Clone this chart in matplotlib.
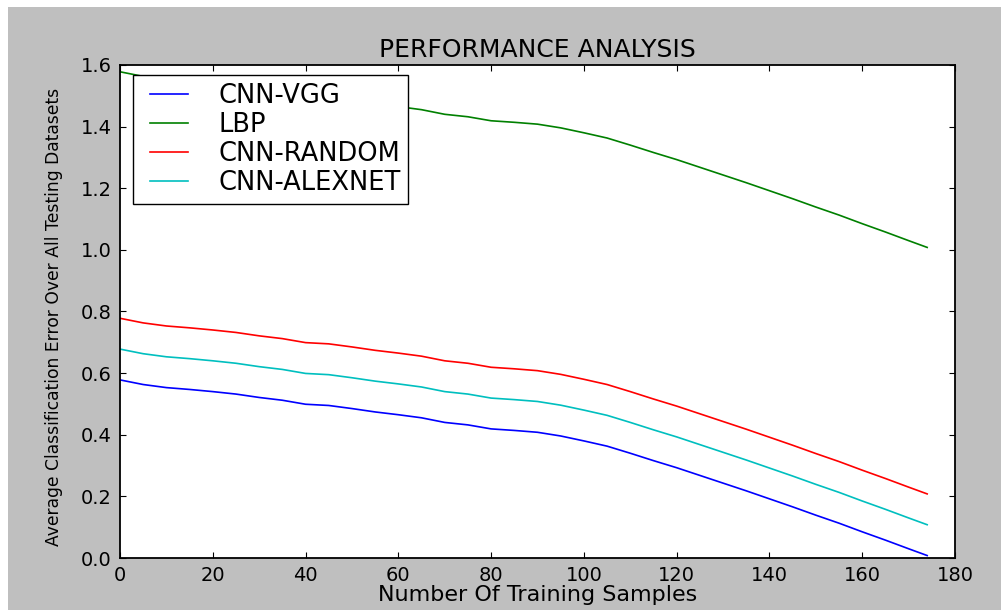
import matplotlib
matplotlib.use("Agg")
import matplotlib.pyplot as plt
from matplotlib.patches import Rectangle
from matplotlib.legend_handler import HandlerLine2D

# Data
samples = [0, 5, 10, 15, 20, 25, 30, 35, 40, 45, 50, 55, 60, 65, 70, 75, 80, 85,
           90, 95, 100, 105, 110, 115, 120, 125, 130, 135, 140, 145, 150, 155,
           160, 165, 170, 174]
cnn_vgg = [0.578, 0.563, 0.553, 0.547, 0.540, 0.532, 0.521, 0.512, 0.499, 0.495,
           0.485, 0.474, 0.465, 0.455, 0.440, 0.432, 0.419, 0.414, 0.408, 0.396,
           0.380, 0.363, 0.340, 0.316, 0.293, 0.268, 0.243, 0.218, 0.192, 0.166,
           0.139, 0.113, 0.085, 0.058, 0.030, 0.008]
lbp = [1.578, 1.563, 1.553, 1.547, 1.540, 1.532, 1.521, 1.512, 1.499, 1.495,
       1.485, 1.474, 1.465, 1.455, 1.440, 1.432, 1.419, 1.414, 1.408, 1.396,
       1.380, 1.363, 1.340, 1.316, 1.293, 1.268, 1.243, 1.218, 1.192, 1.166,
       1.139, 1.113, 1.085, 1.058, 1.030, 1.008]
cnn_random = [0.778, 0.763, 0.753, 0.747, 0.740, 0.732, 0.721, 0.712, 0.699, 0.695,
              0.685, 0.674, 0.665, 0.655, 0.640, 0.632, 0.619, 0.614, 0.608, 0.596,
              0.580, 0.563, 0.540, 0.516, 0.493, 0.468, 0.443, 0.418, 0.392, 0.366,
              0.339, 0.313, 0.285, 0.258, 0.230, 0.208]
cnn_alexnet = [0.678, 0.663, 0.653, 0.647, 0.640, 0.632, 0.621, 0.612, 0.599, 0.595,
               0.585, 0.574, 0.565, 0.555, 0.540, 0.532, 0.519, 0.514, 0.508, 0.496,
               0.480, 0.463, 0.440, 0.416, 0.393, 0.368, 0.343, 0.318, 0.292, 0.266,
               0.239, 0.213, 0.185, 0.158, 0.130, 0.108]
series_names = ["CNN-VGG", "LBP", "CNN-RANDOM", "CNN-ALEXNET"]
x_ticks = [0, 20, 40, 60, 80, 100, 120, 140, 160, 180]
y_ticks = [0.0, 0.2, 0.4, 0.6, 0.8, 1.0, 1.2, 1.4, 1.6]

plt.rcParams['font.family'] = ['DejaVu Sans']


class ShiftedLineHandler(HandlerLine2D):
    """Legend line that is drawn only in the right part of the handle box."""
    def __init__(self, shift_frac=0.25, **kw):
        super().__init__(**kw)
        self.shift_frac = shift_frac

    def create_artists(self, legend, orig_handle, xdescent, ydescent, width,
                       height, fontsize, trans):
        arts = super().create_artists(legend, orig_handle, xdescent, ydescent,
                                      width, height, fontsize, trans)
        line = arts[0]
        xd = list(line.get_xdata())
        x0, x1 = xd[0], xd[-1]
        line.set_xdata([x0 + (x1 - x0) * self.shift_frac, x1])
        line.set_ydata([line.get_ydata()[0]] * 2)
        return arts


W, H = 1001, 610
fig = plt.figure(figsize=(W / 100, H / 100), dpi=100, facecolor='#bfbfbf')
# white strips at top and left edges of the screenshot
fig.patches.append(Rectangle((0, 1 - 7 / H), 1, 7 / H, transform=fig.transFigure,
                             facecolor='white', edgecolor='none', zorder=-1))
fig.patches.append(Rectangle((0, 0), 8 / W, 1, transform=fig.transFigure,
                             facecolor='white', edgecolor='none', zorder=-1))

left, right, top, bottom = 120, 955, 65, 558
ax = fig.add_axes([left / W, 1 - bottom / H, (right - left) / W, (bottom - top) / H])
ax.set_facecolor('white')

colors = ['#0000ff', '#008000', '#ff0000', '#00bfbf']
lines = []
for data, name, c in zip([cnn_vgg, lbp, cnn_random, cnn_alexnet], series_names, colors):
    ln, = ax.plot(samples, data, color=c, lw=1.2, label=name)
    lines.append(ln)

ax.set_xlim(0, 180)
ax.set_ylim(0, 1.6)
ax.set_xticks(x_ticks)
ax.set_yticks(y_ticks)
ax.set_yticklabels([f"{v:.1f}" for v in y_ticks])
ax.tick_params(direction='in', length=4, width=0.8, top=True, right=True,
               labelsize=14, pad=6, colors='black')
for sp in ax.spines.values():
    sp.set_linewidth(1.3)
    sp.set_color('black')

ax.set_title("PERFORMANCE ANALYSIS", fontsize=18, pad=6)
ax.set_xlabel("Number Of Training Samples", fontsize=16)
ax.set_ylabel("Average Classification Error Over All Testing Datasets", fontsize=12.3)
ax.xaxis.set_label_coords(0.5, -0.055)
ax.yaxis.set_label_coords(-0.068, 0.489)

handler = ShiftedLineHandler(shift_frac=0.2)
leg = ax.legend(handles=lines, loc='upper left', bbox_to_anchor=(0.0156, 0.98),
                fontsize=18.5, frameon=True, fancybox=False, framealpha=1,
                edgecolor='black', borderaxespad=0, labelspacing=0.12,
                handlelength=1.85, handletextpad=1.17, borderpad=0.3,
                handler_map={ln: handler for ln in lines})
leg.get_frame().set_linewidth(1.0)

fig.savefig("out.png", dpi=100, facecolor=fig.get_facecolor())
